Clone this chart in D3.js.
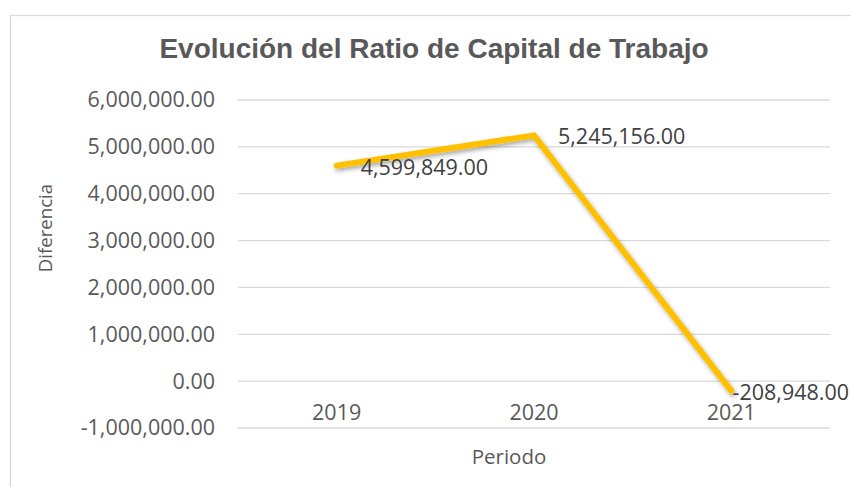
<!DOCTYPE html>
<html><head><meta charset="utf-8">
<script src="https://cdn.jsdelivr.net/npm/d3@7"></script>
<style>html,body{margin:0;padding:0;background:#fff;}svg{display:block;}</style>
</head><body>
<svg id="c" width="851" height="487"></svg>
<script>
const title = "Evolución del Ratio de Capital de Trabajo";
const categories = ["2019", "2020", "2021"];
const values = [4599849, 5245156, -208948];
const yTicks = [-1000000, 0, 1000000, 2000000, 3000000, 4000000, 5000000, 6000000];
const xTitle = "Periodo";
const yTitle = "Diferencia";

const svg = d3.select("#c");
const locale = d3.formatLocale({decimal: ".", thousands: ",", grouping: [3], currency: ["", ""], minus: "-"});
const fmt = locale.format(",.2f");
const font = "'Open Sans', sans-serif";
const fs = 21.5;

// chart border
svg.append("rect").attr("x", 10.5).attr("y", 15.5).attr("width", 860).attr("height", 500)
  .attr("fill", "#fff").attr("stroke", "#d9d9d9").attr("stroke-width", 1.3);

const x = d3.scaleBand().domain(categories).range([238, 830]);
const y = d3.scaleLinear().domain([-1000000, 6000000]).range([428, 100]);
const cx = d => x(d) + x.bandwidth() / 2;

// gridlines
svg.append("g").selectAll("line").data(yTicks).join("line")
  .attr("x1", 238).attr("x2", 830)
  .attr("y1", d => y(d)).attr("y2", d => y(d))
  .attr("stroke", "#d9d9d9").attr("stroke-width", 1.3);

// y axis
const yAxis = d3.axisLeft(y).tickValues(yTicks).tickFormat(fmt).tickSize(0).tickPadding(0);
const gy = svg.append("g").attr("transform", "translate(215,0)").call(yAxis);
gy.select(".domain").remove();
gy.selectAll("text").attr("font-family", font).attr("font-size", fs).attr("fill", "#595959");

// x axis labels just below zero line
const xAxis = d3.axisBottom(x).tickSize(0).tickPadding(0);
const gx = svg.append("g").attr("transform", `translate(0,${y(0)})`).call(xAxis);
gx.select(".domain").remove();
gx.selectAll("text").attr("font-family", font).attr("font-size", fs).attr("fill", "#595959")
  .attr("dy", null).attr("y", 39);

// shadow filter
const defs = svg.append("defs");
const f = defs.append("filter").attr("id", "sh").attr("x", "-10%").attr("y", "-10%").attr("width", "130%").attr("height", "130%");
f.append("feDropShadow").attr("dx", 1.5).attr("dy", 2.5).attr("stdDeviation", 2)
  .attr("flood-color", "#000").attr("flood-opacity", 0.35);

const pts = categories.map((c, i) => [cx(c), y(values[i])]);
svg.append("path").datum(pts)
  .attr("d", d3.line())
  .attr("fill", "none").attr("stroke", "#FFC000").attr("stroke-width", 6)
  .attr("stroke-linejoin", "miter").attr("stroke-linecap", "round")
  .attr("filter", "url(#sh)");

// data labels (right of point, kept inside chart)
const lbl = svg.append("g");
categories.forEach((c, i) => {
  const t = lbl.append("text").text(fmt(values[i]))
    .attr("font-family", font).attr("font-size", fs).attr("fill", "#404040")
    .attr("dominant-baseline", "central")
    .attr("y", y(values[i]) + 0.5);
  const w = t.node().getComputedTextLength();
  let lx = cx(c) + 24;
  if (lx + w > 849) lx = 849 - w;
  t.attr("x", lx);
});

// title
svg.append("text").text(title)
  .attr("x", 434).attr("y", 58).attr("text-anchor", "middle")
  .attr("font-family", "'Liberation Sans', Arial, sans-serif").attr("font-weight", "bold")
  .attr("font-size", 28).attr("fill", "#595959");

// axis titles
svg.append("text").text(xTitle)
  .attr("x", 509).attr("y", 464).attr("text-anchor", "middle")
  .attr("font-family", font).attr("font-size", 20.5).attr("fill", "#595959");
svg.append("text").text(yTitle)
  .attr("transform", "translate(52,228) rotate(-90)").attr("text-anchor", "middle")
  .attr("font-family", font).attr("font-size", 18.6).attr("fill", "#595959");
</script>
</body></html>
